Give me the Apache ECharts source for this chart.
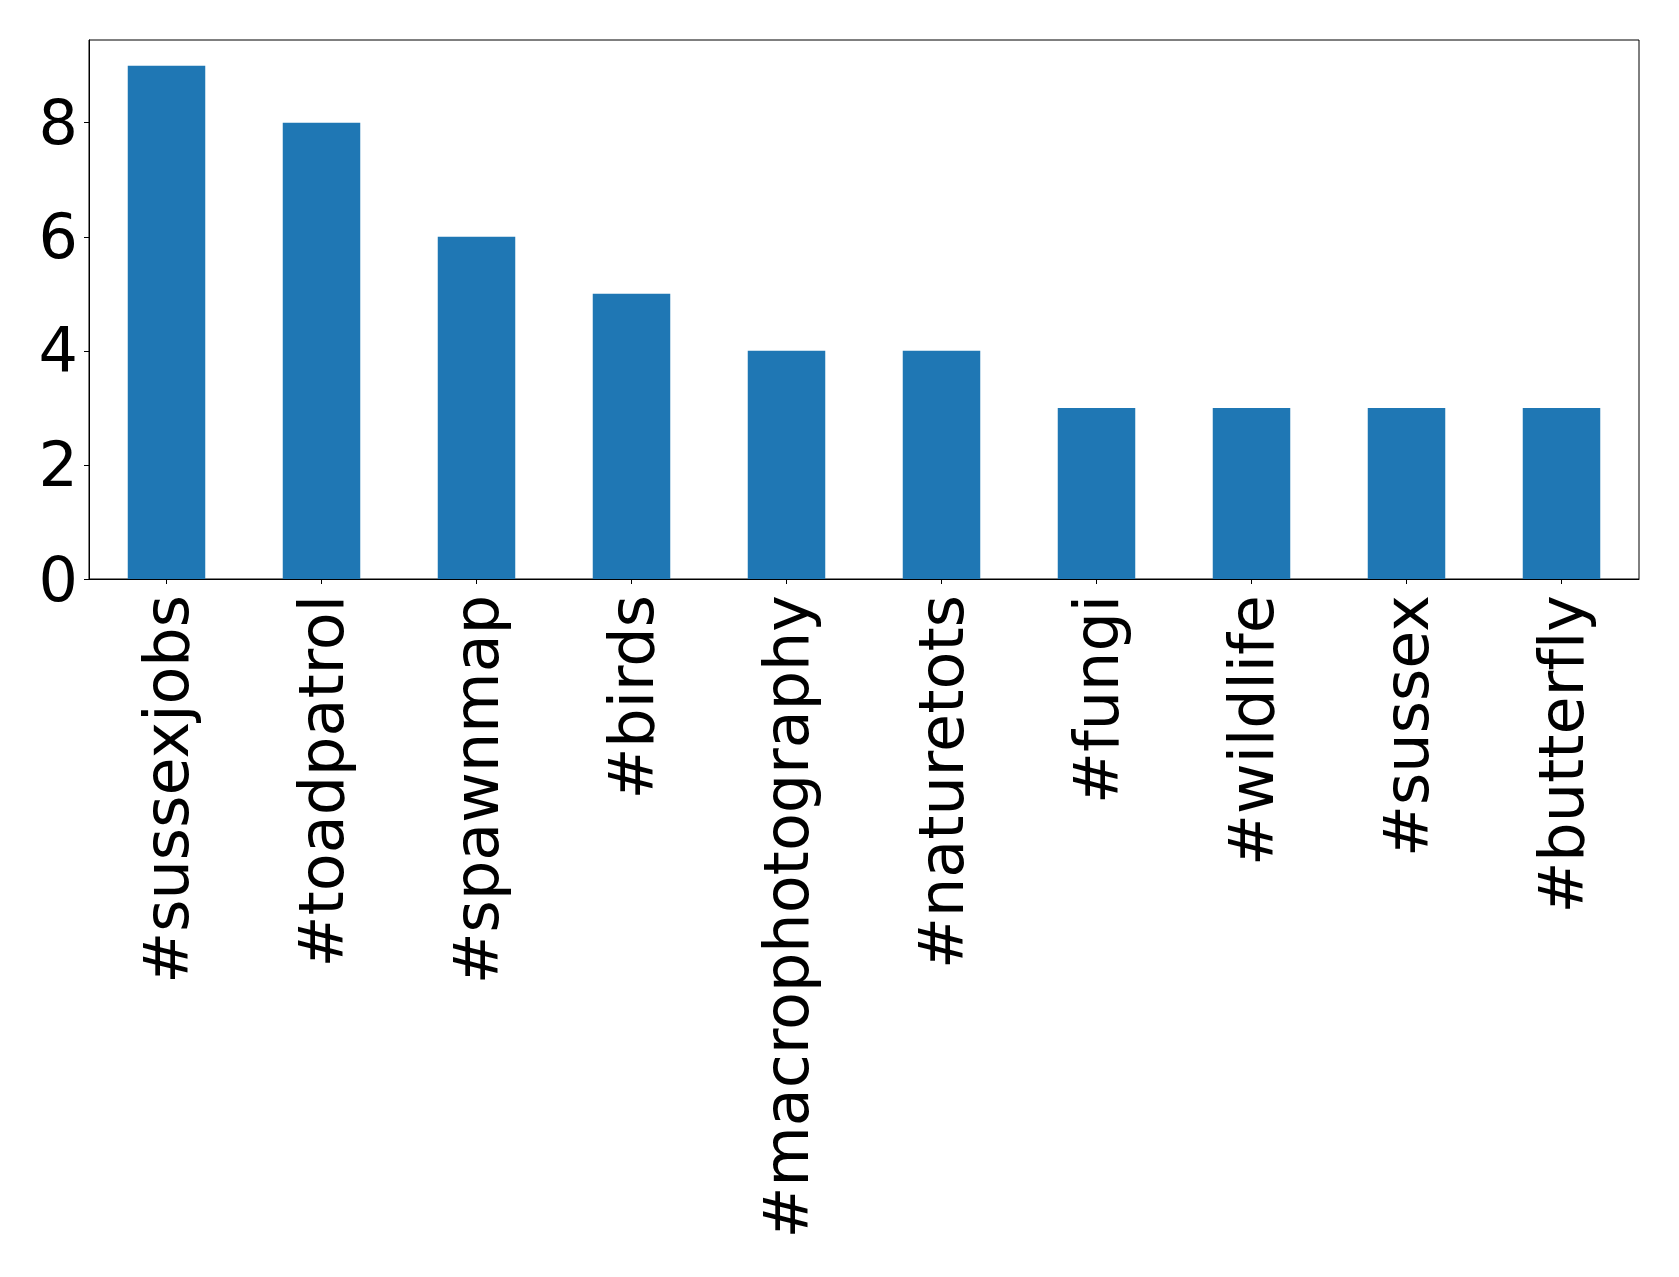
<!DOCTYPE html>
<html>
<head>
<meta charset="utf-8">
<script src="https://cdn.jsdelivr.net/npm/echarts@6/dist/echarts.min.js"></script>
<style>
html,body{margin:0;padding:0;background:#fff;}
#chart{width:1679px;height:1277px;font-variant-ligatures:none;}
#chart text{font-variant-ligatures:none;font-feature-settings:"liga" 0, "clig" 0;}
</style>
</head>
<body>
<div id="chart"></div>
<script>
const categories = ["#sussexjobs","#toadpatrol","#spawnmap","#birds","#macrophotography","#naturetots","#fungi","#wildlife","#sussex","#butterfly"];
const counts = [9, 8, 6, 5, 4, 4, 3, 3, 3, 3];
const yTicks = [0, 2, 4, 6, 8];

const chart = echarts.init(document.getElementById('chart'), null, {renderer: 'svg'});
chart.setOption({
  animation: false,
  backgroundColor: '#fff',
  grid: {left: 89, right: 40, top: 40, bottom: 698, show: true, borderColor: '#000', borderWidth: 1, containLabel: false},
  xAxis: {
    type: 'category',
    data: categories,
    boundaryGap: true,
    axisLine: {show: true, lineStyle: {color: '#000', width: 1}},
    axisTick: {show: true, alignWithLabel: true, length: 5, lineStyle: {color: '#000', width: 1}},
    axisLabel: {rotate: 90, interval: 0, margin: 16, fontSize: 62, color: '#000', fontFamily: 'DejaVu Sans', padding: [8, 0, 0, 0]},
    splitLine: {show: false}
  },
  yAxis: {
    type: 'value',
    min: 0, max: 9.45, interval: 2,
    axisLine: {show: true, lineStyle: {color: '#000', width: 1}},
    axisTick: {show: true, length: 5, lineStyle: {color: '#000', width: 1}},
    axisLabel: {margin: 11, fontSize: 62, color: '#000', fontFamily: 'DejaVu Sans',
      formatter: v => yTicks.includes(v) ? String(v) : '', showMaxLabel: false},
    splitLine: {show: false}
  },
  series: [{
    type: 'bar',
    data: counts,
    barWidth: '50%',
    itemStyle: {color: '#1f77b4'}
  }]
});
</script>
</body>
</html>
